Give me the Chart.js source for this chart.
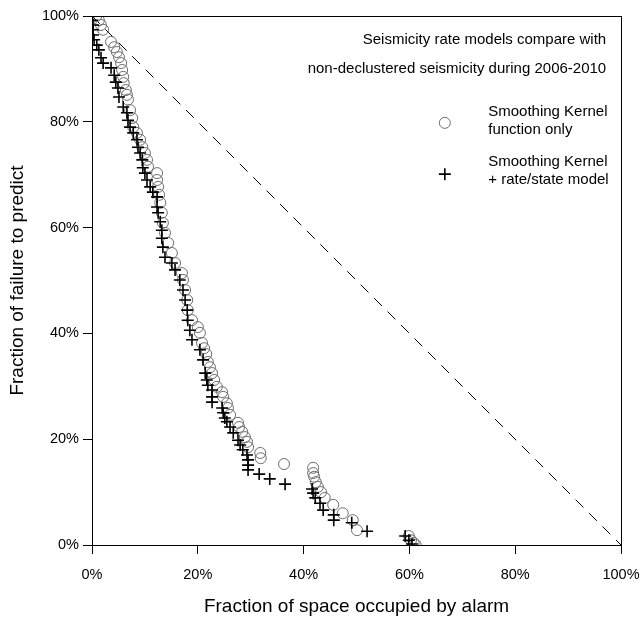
<!DOCTYPE html>
<html>
<head>
<meta charset="utf-8">
<script src="https://cdn.jsdelivr.net/npm/chart.js@4"></script>
<style>
  html, body { margin: 0; padding: 0; background: #fff; }
  #wrap { width: 642px; height: 621px; }
</style>
</head>
<body>
<div id="wrap"><canvas id="c" width="642" height="621"></canvas></div>
<script>
// Fraction of space occupied by alarm (%) / fraction of failure to predict (%)
const kernelX = [0.8, 1.3, 1.7, 2.1, 3.6, 4.2, 4.7, 5.1, 5.5, 5.7, 5.9, 6.0, 6.4, 6.6, 6.8, 7.2, 7.6, 7.8,
  8.5, 9.1, 9.5, 10.0, 10.4, 10.6, 12.3, 12.3, 12.5, 12.7, 12.9, 13.2, 13.4, 13.8, 14.4, 15.1, 15.7,
  17.0, 17.2, 17.6, 18.0, 18.1, 18.9, 20.0, 20.4, 20.8, 21.2, 21.6, 21.9, 22.3, 22.7, 23.1, 23.6, 24.6,
  24.8, 25.5, 25.7, 26.1, 27.6, 27.8, 28.4, 28.9, 29.3, 29.5, 31.8, 31.9, 36.3, 41.8, 41.8, 42.0, 42.3,
  42.7, 43.3, 44.0, 45.6, 47.4, 49.3, 50.1, 59.9, 60.3, 60.8, 61.2];
const kernelY = [100.0, 99.2, 98.3, 97.4, 95.1, 94.1, 93.2, 92.2, 91.1, 89.8, 88.5, 87.3, 86.0, 85.1, 84.2,
  82.2, 80.7, 79.0, 77.9, 76.6, 75.2, 74.1, 72.8, 71.5, 70.3, 69.0, 67.7, 66.2, 64.7, 62.8, 60.9, 59.0,
  57.1, 55.2, 53.3, 51.4, 50.1, 48.2, 46.3, 44.4, 42.5, 41.2, 40.1, 38.2, 37.2, 36.1, 34.6, 33.6, 32.5,
  31.2, 29.9, 28.9, 28.0, 26.8, 25.9, 24.6, 23.1, 22.3, 21.4, 20.4, 19.5, 18.5, 17.4, 16.4, 15.3, 14.6,
  13.6, 12.9, 11.9, 11.0, 10.0, 8.9, 7.6, 6.0, 4.7, 2.8, 1.7, 0.9, 0.4, 0.0];

const rateStateX = [0.0, 0.0, 0.2, 0.2, 0.2, 0.4, 0.9, 1.3, 1.7, 2.1, 3.6, 4.2, 4.5, 4.9, 5.1, 5.9, 6.6,
  6.8, 7.2, 7.8, 8.5, 8.7, 9.1, 9.5, 9.6, 10.0, 10.4, 11.0, 11.5, 12.3, 12.3, 12.5, 12.9, 13.2, 13.2,
  13.4, 13.8, 15.1, 15.7, 16.6, 17.2, 17.6, 18.0, 18.1, 18.5, 18.9, 20.4, 21.0, 21.4, 21.7, 21.9, 22.7,
  22.7, 22.7, 24.6, 24.8, 25.1, 25.5, 26.1, 26.7, 27.6, 28.0, 28.5, 29.3, 29.5, 29.5, 29.5, 31.6, 33.6,
  36.5, 41.6, 41.8, 42.2, 43.1, 43.7, 45.7, 45.7, 49.1, 52.0, 59.2, 59.9, 60.5];
const rateStateY = [100.0, 99.2, 98.3, 97.4, 96.4, 95.5, 94.5, 93.6, 92.1, 91.1, 90.2, 88.8, 87.5, 86.4,
  84.7, 82.8, 81.7, 80.3, 79.0, 77.9, 76.6, 75.2, 74.1, 72.8, 71.3, 70.3, 69.0, 67.7, 66.7, 65.8, 63.9,
  62.8, 61.1, 59.5, 58.0, 56.3, 54.4, 53.3, 52.0, 50.1, 48.2, 46.3, 44.4, 42.5, 40.6, 38.8, 36.9, 35.0,
  32.5, 31.2, 30.2, 29.3, 28.0, 27.0, 25.9, 25.0, 24.0, 23.3, 22.3, 21.2, 19.8, 18.9, 18.0, 17.0, 16.1,
  15.1, 14.2, 13.4, 12.5, 11.5, 10.6, 9.8, 8.9, 7.9, 6.6, 5.7, 4.7, 4.2, 2.6, 1.7, 0.9, 0.2];

const randomX = [0, 100];
const randomY = [100, 0];

const TICKS = [0, 20, 40, 60, 80, 100];
const TITLE_LINES = ['Seismicity rate models compare with', 'non-declustered seismicity during 2006-2010'];
const KERNEL_LABEL = ['Smoothing Kernel', 'function only'];
const RATESTATE_LABEL = ['Smoothing Kernel', '+ rate/state model'];

const FONT = '"Liberation Sans", Arial, Helvetica, sans-serif';
const GRAY = '#6e6e6e';

const pts = (xs, ys) => xs.map((x, i) => ({ x, y: ys[i] }));

// frame round the plot + the annotation text and legend drawn inside it
const framePlugin = {
  id: 'frame',
  afterDatasetsDraw(chart) {
    const { ctx, chartArea: a, scales } = chart;
    ctx.save();
    ctx.strokeStyle = '#000';
    ctx.lineWidth = 1;
    ctx.strokeRect(a.left + 0.5, a.top + 0.5, a.right - a.left, a.bottom - a.top);

    ctx.fillStyle = '#000';
    ctx.font = '15px ' + FONT;
    ctx.textBaseline = 'middle';
    ctx.textAlign = 'right';
    const sx = (v) => scales.x.getPixelForValue(v);
    const sy = (v) => scales.y.getPixelForValue(v);
    ctx.fillText(TITLE_LINES[0], sx(97.2), sy(95.5));
    ctx.fillText(TITLE_LINES[1], sx(97.2), sy(90.0));

    ctx.textAlign = 'left';
    ctx.fillText(KERNEL_LABEL[0], sx(74.9), sy(81.9));
    ctx.fillText(KERNEL_LABEL[1], sx(74.9), sy(78.5));
    ctx.fillText(RATESTATE_LABEL[0], sx(74.9), sy(72.4));
    ctx.fillText(RATESTATE_LABEL[1], sx(74.9), sy(69.0));

    ctx.fillStyle = 'rgba(0,0,0,0)';
    ctx.strokeStyle = GRAY;
    ctx.lineWidth = 1;
    Chart.helpers.drawPoint(ctx, { pointStyle: 'circle', radius: 5.5, rotation: 0, borderWidth: 1 }, sx(66.7), sy(79.8));
    ctx.strokeStyle = '#000';
    ctx.lineWidth = 1.6;
    Chart.helpers.drawPoint(ctx, { pointStyle: 'cross', radius: 6, rotation: 0, borderWidth: 1.6 }, sx(66.7), sy(70.1));
    ctx.restore();
  },
};

const axisCommon = {
  type: 'linear',
  min: 0,
  max: 100,
  border: { display: true, color: '#000', width: 1 },
  grid: { display: true, drawOnChartArea: false, drawTicks: true, tickLength: 9, color: '#000', lineWidth: 1 },
};

new Chart(document.getElementById('c'), {
  type: 'scatter',
  data: {
    datasets: [
      {
        label: 'Smoothing Kernel + rate/state model',
        data: pts(rateStateX, rateStateY),
        pointStyle: 'cross',
        pointRadius: 6,
        borderColor: '#000',
        borderWidth: 1.6,
        backgroundColor: '#000',
        order: 0,
      },
      {
        label: 'Smoothing Kernel function only',
        data: pts(kernelX, kernelY),
        pointStyle: 'circle',
        pointRadius: 5.5,
        borderColor: GRAY,
        borderWidth: 1,
        backgroundColor: 'rgba(0,0,0,0)',
        order: 1,
      },
      {
        label: 'random',
        data: pts(randomX, randomY),
        showLine: true,
        pointRadius: 0,
        borderColor: '#000',
        borderWidth: 1,
        borderDash: [11, 8],
        order: 2,
      },
    ],
  },
  options: {
    responsive: false,
    animation: false,
    layout: { padding: { top: 16, right: 21, left: 0, bottom: 0 } },
    plugins: { legend: { display: false }, tooltip: { enabled: false } },
    scales: {
      x: {
        ...axisCommon,
        afterBuildTicks: (s) => { s.ticks = TICKS.map((v) => ({ value: v })); },
        afterFit: (s) => { s.height = 76; s.paddingLeft = 0; s.paddingRight = 0; },
        ticks: { color: '#000', font: { family: FONT, size: 14.5 }, padding: 12, maxRotation: 0, callback: (v) => v + '%' },
        title: { display: true, text: 'Fraction of space occupied by alarm', color: '#000', font: { family: FONT, size: 19 }, padding: { top: 4, bottom: 3 } },
      },
      y: {
        ...axisCommon,
        afterBuildTicks: (s) => { s.ticks = TICKS.map((v) => ({ value: v })); },
        afterFit: (s) => { s.width = 92; s.paddingTop = 0; s.paddingBottom = 0; },
        ticks: { color: '#000', font: { family: FONT, size: 14.5 }, padding: 4, callback: (v) => v + '%' },
        title: { display: true, text: 'Fraction of failure to predict', color: '#000', font: { family: FONT, size: 19 }, padding: { top: 6, bottom: 4 } },
      },
    },
  },
  plugins: [framePlugin],
});
</script>
</body>
</html>
